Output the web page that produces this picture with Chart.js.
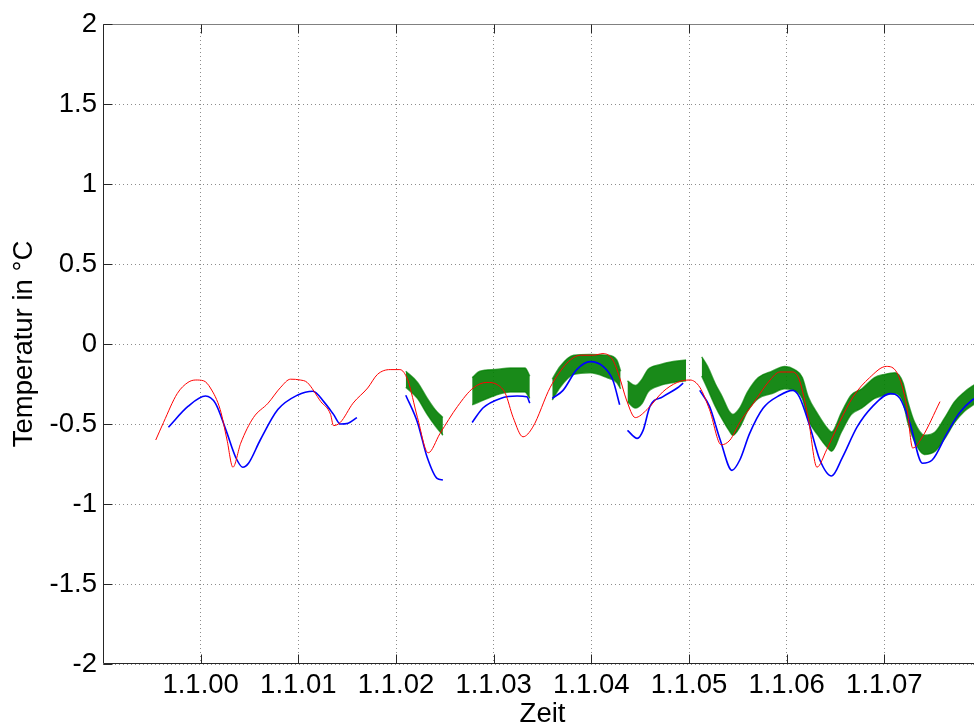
<!DOCTYPE html>
<html>
<head>
<meta charset="utf-8">
<title>Temperatur</title>
<script src="https://cdn.jsdelivr.net/npm/chart.js@4"></script>
<style>
    html, body { margin: 0; padding: 0; background: #fff; overflow: hidden; }
    #wrap { width: 1000px; height: 726px; }
</style>
</head>
<body>
<div id="wrap"><canvas id="tempChart" width="1000" height="726"></canvas></div>
<script>
// ========================================
// DATA (Zeit in Tagen ab 1.1.00, Temperatur in °C)
// ========================================
const xTickValues = [0, 1, 2, 3, 4, 5, 6, 7];
const xTickLabels = ['1.1.00', '1.1.01', '1.1.02', '1.1.03', '1.1.04', '1.1.05', '1.1.06', '1.1.07'];
const yTickStep = 0.5;

// Rote Kurve
const redTime = [-0.46, -0.38, -0.24, -0.13, -0.05, 0.03, 0.10, 0.20, 0.27, 0.33,
    0.41, 0.54, 0.69, 0.82, 0.92, 1.02, 1.09, 1.23, 1.33, 1.36,
    1.43, 1.56, 1.71, 1.81, 1.94, 2.04, 2.12, 2.22, 2.33, 2.45,
    2.63, 2.79, 2.93, 3.04, 3.12, 3.20, 3.30, 3.40, 3.58, 3.75,
    3.89, 4.02, 4.12, 4.22, 4.29, 4.36, 4.45, 4.57, 4.73, 4.88,
    5.01, 5.11, 5.21, 5.33, 5.42, 5.52, 5.66, 5.83, 5.93, 6.06,
    6.13, 6.22, 6.31, 6.41, 6.54, 6.68, 6.85, 7.02, 7.13, 7.23,
    7.29, 7.39, 7.57];
const redTemp = [-0.60, -0.49, -0.31, -0.24, -0.225, -0.23, -0.275, -0.41, -0.60, -0.77,
    -0.62, -0.46, -0.37, -0.27, -0.22, -0.225, -0.24, -0.36, -0.44, -0.51,
    -0.49, -0.37, -0.275, -0.19, -0.16, -0.16, -0.225, -0.46, -0.68, -0.56,
    -0.39, -0.275, -0.24, -0.255, -0.31, -0.46, -0.58, -0.52, -0.27, -0.12,
    -0.07, -0.07, -0.06, -0.10, -0.21, -0.35, -0.46, -0.41, -0.30, -0.24,
    -0.225, -0.27, -0.41, -0.63, -0.60, -0.49, -0.37, -0.225, -0.175, -0.175,
    -0.225, -0.46, -0.77, -0.66, -0.49, -0.33, -0.21, -0.14, -0.18, -0.39,
    -0.65, -0.58, -0.36];

// Blaue Kurve (null = Messlücke)
const blueTime = [-0.33, -0.13, 0.05, 0.15, 0.26, 0.36, 0.43, 0.49, 0.61, 0.79,
    0.99, 1.15, 1.26, 1.36, 1.43, 1.51, 1.60, 1.85,
    2.10, 2.22, 2.32, 2.42, 2.48, 2.63,
    2.78, 2.89, 3.07, 3.24, 3.34, 3.37, 3.48,
    3.60, 3.71, 3.85, 3.99, 4.12, 4.22, 4.29, 4.33,
    4.37, 4.47, 4.53, 4.60, 4.73, 4.88, 4.94, 5.02,
    5.11, 5.21, 5.32, 5.44, 5.52, 5.62, 5.76, 5.93, 6.06, 6.13,
    6.24, 6.34, 6.46, 6.57, 6.72, 6.88, 7.06, 7.16, 7.26, 7.39,
    7.49, 7.64, 7.77, 7.90, 7.99];
const blueTemp = [-0.52, -0.39, -0.325, -0.37, -0.54, -0.71, -0.77, -0.745, -0.60, -0.41,
    -0.32, -0.295, -0.36, -0.44, -0.50, -0.495, -0.46, null,
    -0.32, -0.49, -0.71, -0.84, -0.85, null,
    -0.49, -0.40, -0.34, -0.325, -0.33, -0.37, null,
    -0.34, -0.29, -0.16, -0.11, -0.14, -0.225, -0.38, null,
    -0.54, -0.59, -0.54, -0.39, -0.33, -0.275, -0.245, null,
    -0.29, -0.39, -0.60, -0.79, -0.725, -0.56, -0.40, -0.32, -0.29, -0.33,
    -0.52, -0.725, -0.825, -0.71, -0.52, -0.39, -0.31, -0.34, -0.49, -0.745,
    -0.725, -0.56, -0.43, -0.35, -0.32];

// Grüne Messreihe: oberer und unterer Rand des verrauschten Bandes
const greenTime = [2.10, 2.22, 2.32, 2.40, 2.48, 2.63,
    2.78, 2.86, 3.02, 3.17, 3.32, 3.37, 3.48,
    3.60, 3.68, 3.82, 3.99, 4.16, 4.26, 4.30, 4.33,
    4.37, 4.45, 4.52, 4.58, 4.70, 4.84, 4.97, 5.05,
    5.13, 5.19, 5.27, 5.34, 5.41, 5.45, 5.52, 5.60, 5.71, 5.85,
    5.98, 6.08, 6.16, 6.22, 6.32, 6.42, 6.46, 6.56, 6.66, 6.77,
    6.90, 7.00, 7.11, 7.19, 7.24, 7.31, 7.41, 7.52, 7.62, 7.72,
    7.82, 7.91, 7.99];
const greenUpper = [-0.17, -0.24, -0.34, -0.41, -0.46, null,
    -0.21, -0.17, -0.16, -0.15, -0.15, -0.20, null,
    -0.22, -0.14, -0.07, -0.065, -0.07, -0.10, -0.17, null,
    -0.23, -0.26, -0.22, -0.16, -0.13, -0.11, -0.10, null,
    -0.08, -0.14, -0.25, -0.33, -0.42, -0.44, -0.40, -0.30, -0.21, -0.17,
    -0.14, -0.16, -0.21, -0.33, -0.44, -0.53, -0.55, -0.43, -0.32, -0.28,
    -0.21, -0.19, -0.18, -0.24, -0.36, -0.49, -0.57, -0.55, -0.46, -0.36,
    -0.30, -0.26, -0.23];
const greenLower = [-0.27, -0.34, -0.44, -0.51, -0.57, null,
    -0.38, -0.36, -0.32, -0.30, -0.30, -0.34, null,
    -0.35, -0.27, -0.19, -0.18, -0.21, -0.24, -0.28, null,
    -0.36, -0.40, -0.37, -0.30, -0.26, -0.24, -0.23, null,
    -0.20, -0.28, -0.39, -0.47, -0.54, -0.57, -0.52, -0.42, -0.34, -0.31,
    -0.28, -0.29, -0.34, -0.47, -0.57, -0.65, -0.67, -0.55, -0.44, -0.40,
    -0.34, -0.32, -0.31, -0.36, -0.49, -0.61, -0.69, -0.67, -0.59, -0.49,
    -0.42, -0.38, -0.35];

// ========================================
// HELPERS
// ========================================
const FONT = "'Liberation Sans', Arial, Helvetica, sans-serif";
const FONT_SIZE = 27.5;

function toPoints(times, temps) {
    return times.map((t, i) => ({ x: t, y: temps[i] }));
}

// MATLAB-like frame with inward tick marks
const axesFrame = {
    id: 'axesFrame',
    afterDraw(chart) {
        const { ctx, chartArea: a, scales } = chart;
        const len = 9;
        const L = Math.round(a.left) + 0.5;
        const R = Math.round(a.right) + 0.5;
        const T = Math.round(a.top) + 0.5;
        const B = Math.round(a.bottom) - 0.5;
        ctx.save();
        ctx.lineWidth = 1;
        ctx.setLineDash([]);

        ctx.strokeStyle = '#808080';
        ctx.beginPath();
        ctx.moveTo(L, T); ctx.lineTo(R, T);
        ctx.stroke();

        ctx.strokeStyle = '#262626';
        ctx.beginPath();
        ctx.moveTo(L, T); ctx.lineTo(L, B); ctx.lineTo(R, B); ctx.lineTo(R, T);
        xTickValues.forEach(v => {
            const px = Math.round(scales.x.getPixelForValue(v)) + 0.5;
            ctx.moveTo(px, B); ctx.lineTo(px, B - len);
            ctx.moveTo(px, T); ctx.lineTo(px, T + len);
        });
        scales.y.ticks.forEach(t => {
            const py = Math.round(scales.y.getPixelForValue(t.value)) + 0.5;
            ctx.moveTo(L, py); ctx.lineTo(L + len, py);
            ctx.moveTo(R, py); ctx.lineTo(R - len, py);
        });
        ctx.stroke();
        ctx.restore();
    }
};

// ========================================
// CHART
// ========================================
function initializeChart() {
    const ctx = document.getElementById('tempChart').getContext('2d');
    new Chart(ctx, {
        type: 'line',
        data: {
            datasets: [
                {
                    label: 'rot',
                    data: toPoints(redTime, redTemp),
                    borderColor: '#ff0000',
                    borderWidth: 1,
                    cubicInterpolationMode: 'monotone',
                    pointRadius: 0,
                    fill: false
                },
                {
                    label: 'blau',
                    data: toPoints(blueTime, blueTemp),
                    borderColor: '#0000ff',
                    borderWidth: 1.6,
                    cubicInterpolationMode: 'monotone',
                    pointRadius: 0,
                    spanGaps: false,
                    fill: false
                },
                {
                    label: 'grün oben',
                    data: toPoints(greenTime, greenUpper),
                    borderColor: 'rgba(0, 128, 0, 0.7)',
                    borderWidth: 1.5,
                    backgroundColor: 'rgba(0, 125, 0, 0.9)',
                    cubicInterpolationMode: 'monotone',
                    pointRadius: 0,
                    spanGaps: false,
                    fill: '+1'
                },
                {
                    label: 'grün unten',
                    data: toPoints(greenTime, greenLower),
                    borderColor: 'rgba(0, 128, 0, 0.7)',
                    borderWidth: 1.5,
                    cubicInterpolationMode: 'monotone',
                    pointRadius: 0,
                    spanGaps: false,
                    fill: false
                }
            ]
        },
        options: {
            responsive: false,
            animation: false,
            layout: {
                padding: { top: 24, right: 18, bottom: 0, left: 0 }
            },
            plugins: {
                legend: { display: false },
                tooltip: { enabled: false }
            },
            scales: {
                x: {
                    type: 'linear',
                    min: -1,
                    max: 8,
                    afterBuildTicks: scale => {
                        scale.ticks = xTickValues.map(v => ({ value: v }));
                    },
                    afterFit: scale => { scale.height = 62; },
                    ticks: {
                        autoSkip: false,
                        maxRotation: 0,
                        padding: 8,
                        color: '#000',
                        font: { family: FONT, size: FONT_SIZE, lineHeight: 1 },
                        callback: (value, index) => xTickLabels[index]
                    },
                    grid: {
                        color: '#8c8c8c',
                        lineWidth: 1,
                        drawTicks: false
                    },
                    border: { display: false, dash: [1, 3] },
                    title: {
                        display: true,
                        text: 'Zeit',
                        color: '#000',
                        padding: { top: 0, bottom: -2 },
                        font: { family: FONT, size: FONT_SIZE, lineHeight: 1 }
                    }
                },
                y: {
                    min: -2,
                    max: 2,
                    afterFit: scale => { scale.width = 103; },
                    ticks: {
                        stepSize: yTickStep,
                        padding: 6,
                        color: '#000',
                        font: { family: FONT, size: FONT_SIZE, lineHeight: 1 },
                        callback: value => String(value)
                    },
                    grid: {
                        color: '#8c8c8c',
                        lineWidth: 1,
                        drawTicks: false
                    },
                    border: { display: false, dash: [1, 3] },
                    title: {
                        display: true,
                        text: 'Temperatur in °C',
                        color: '#000',
                        padding: { top: 11, bottom: 0 },
                        font: { family: FONT, size: FONT_SIZE, lineHeight: 1 }
                    }
                }
            }
        },
        plugins: [axesFrame]
    });
}

document.addEventListener('DOMContentLoaded', initializeChart);
</script>
</body>
</html>
